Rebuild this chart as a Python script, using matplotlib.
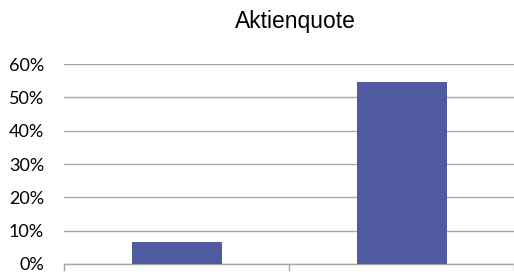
import matplotlib
matplotlib.use("Agg")
import matplotlib.pyplot as plt
from matplotlib.ticker import PercentFormatter

plt.rcParams['font.family'] = ['Liberation Sans', 'DejaVu Sans']

title = "Aktienquote"
categories = ["", ""]
values = [6.7, 54.6]
yticks = [0, 10, 20, 30, 40, 50, 60]

W, H = 514, 279
fig = plt.figure(figsize=(W / 100, H / 100), dpi=100)
ax = fig.add_axes([64 / W, (H - 264) / H, (W - 64) / W, 200 / H])

x = [0.5, 1.5]
ax.bar(x, values, width=0.4, color="#4F5AA0", zorder=3)
ax.set_xlim(0, 2)
ax.set_ylim(0, 60)
ax.set_yticks(yticks)
ax.yaxis.set_major_formatter(PercentFormatter(decimals=0))
ax.set_xticks([0, 1, 2])
ax.set_xticklabels(["", "", ""])
ax.tick_params(axis="x", length=5, color="#A6A6A6", width=1)
ax.tick_params(axis="y", length=0, pad=14.4, labelsize=13)
ax.grid(axis="y", color="#A6A6A6", linewidth=1, zorder=0)
for s in ["top", "right", "left"]:
    ax.spines[s].set_visible(False)
ax.spines["bottom"].set_color("#A6A6A6")
ax.spines["bottom"].set_linewidth(1)
for lbl in ax.get_yticklabels():
    lbl.set_color("#000000")
    lbl.set_family(["Lato", "DejaVu Sans"])

fig.text(295.5 / W, 1 - 28 / H, title, ha="center", va="baseline", fontsize=16.5)

fig.savefig("out.png", dpi=100)
